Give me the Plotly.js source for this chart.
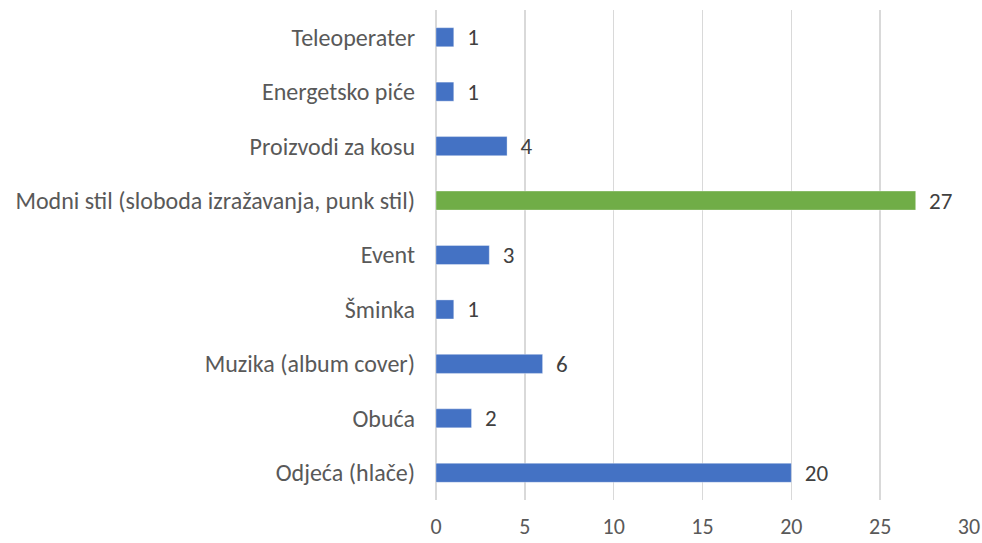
<!DOCTYPE html>
<html>
<head>
<meta charset="utf-8">
<script src="https://cdn.plot.ly/plotly-3.0.1.min.js"></script>
<style>html,body{margin:0;padding:0;background:#fff;}#chart{width:982px;height:543px;}</style>
</head>
<body>
<div id="chart"></div>
<script>
const categories = ["Odjeća (hlače)", "Obuća", "Muzika (album cover)", "Šminka", "Event", "Modni stil (sloboda izražavanja, punk stil)", "Proizvodi za kosu", "Energetsko piće", "Teleoperater"];
const values = [20, 2, 6, 1, 3, 27, 4, 1, 1];
const barColors = ["#4472C4", "#4472C4", "#4472C4", "#4472C4", "#4472C4", "#70AD47", "#4472C4", "#4472C4", "#4472C4"];
const xTicks = [0, 5, 10, 15, 20, 25, 30];

const fontFam = "Carlito, Lato, 'Open Sans', sans-serif";
const trace = {
  type: 'bar',
  orientation: 'h',
  y: categories,
  x: values,
  marker: {color: barColors, line: {color: 'rgba(255,255,255,0.35)', width: 1}},
  text: values.map(v => '  ' + v),
  textposition: 'outside',
  constraintext: 'none',
  cliponaxis: false,
  textfont: {family: fontFam, size: 23, color: '#404040'},
  hoverinfo: 'none'
};
const layout = {
  width: 982, height: 543,
  margin: {l: 436, r: 13, t: 10, b: 43},
  paper_bgcolor: '#fff', plot_bgcolor: '#fff',
  bargap: 0.65,
  showlegend: false,
  font: {family: fontFam, size: 24, color: '#595959'},
  xaxis: {
    range: [0, 30], tickvals: xTicks, ticktext: xTicks.map(String),
    showgrid: true, gridcolor: '#d9d9d9', gridwidth: 1.5,
    zeroline: true, zerolinecolor: '#d9d9d9', zerolinewidth: 1.5,
    showline: false, ticks: '', ticklabelstandoff: 11,
    tickfont: {family: fontFam, size: 22, color: '#595959'}, fixedrange: true
  },
  yaxis: {
    type: 'category', categoryorder: 'array', categoryarray: categories,
    showgrid: false, zeroline: false, showline: false, ticks: '',
    ticklabelstandoff: 20,
    tickfont: {family: fontFam, size: 24, color: '#595959'}
  }
};
Plotly.newPlot('chart', [trace], layout, {displayModeBar: false, staticPlot: true});
</script>
</body>
</html>
